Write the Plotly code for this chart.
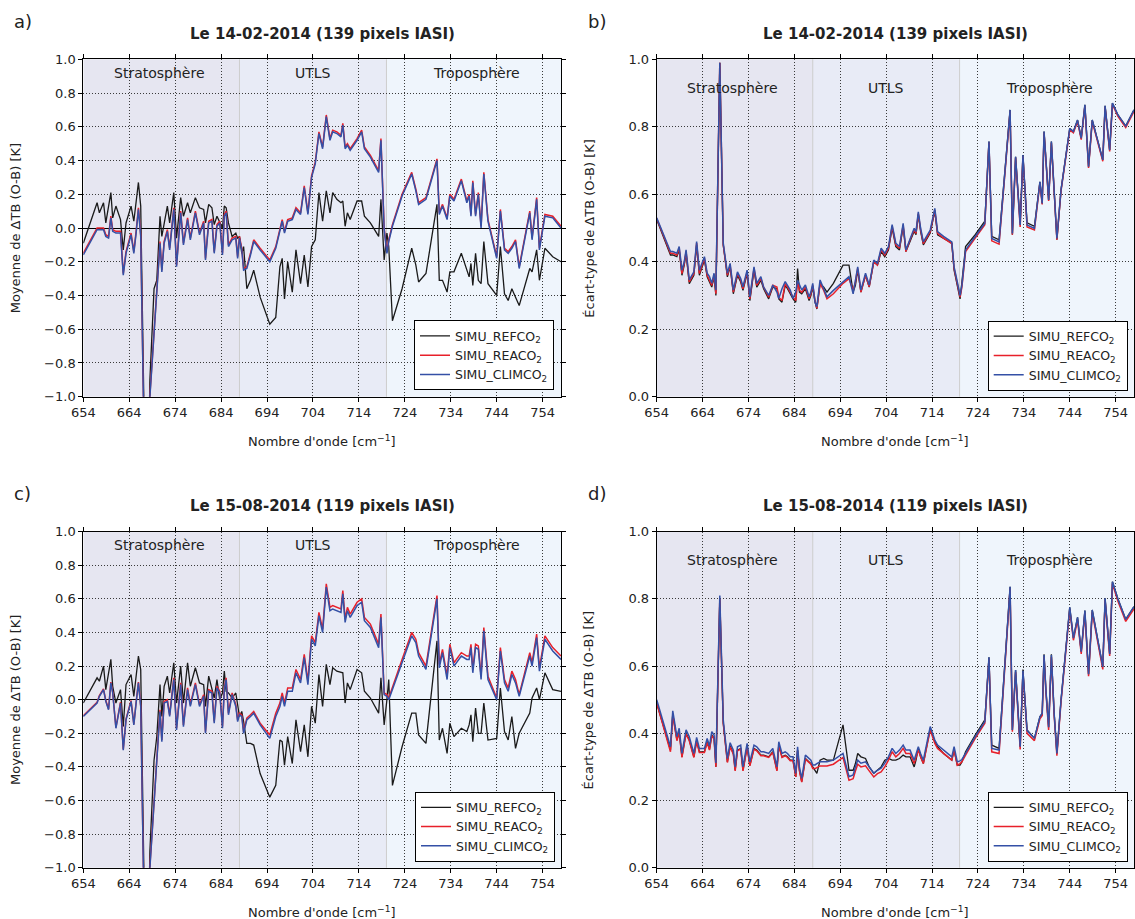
import plotly.graph_objects as go

W, H = 1135, 919

# ---------------- data ----------------
wavenumber = [
    654.0, 657.0, 657.5, 658.4, 658.9, 659.5, 660.0, 660.4, 661.1, 662.1,
    662.7, 663.3, 664.4, 665.0, 665.5, 666.0, 666.5, 666.9, 667.75, 668.5,
    669.4, 670.0, 670.7, 671.1, 671.6, 672.3, 672.8, 673.7, 674.3, 675.2,
    675.8, 676.7, 677.3, 678.4, 679.3, 680.2, 680.6, 681.3, 682.0, 682.5,
    683.1, 683.7, 684.3, 684.7, 685.1, 685.6, 686.4, 687.2, 687.6, 688.0,
    688.5, 688.9, 689.6, 690.4, 691.1, 692.5, 694.6, 695.9, 696.8, 697.3,
    697.8, 698.5, 699.5, 700.3, 701.3, 702.1, 702.9, 703.7, 704.5, 705.3,
    706.1, 706.9, 707.7, 708.3, 709.2, 710.1, 710.5, 711.0, 711.5, 712.1,
    713.6, 714.6, 715.2, 716.5, 718.3, 718.8, 719.5, 720.1, 720.5, 721.3,
    723.4, 725.5, 726.4, 727.0, 728.6, 731.0, 731.5, 732.2, 733.2, 733.8,
    734.7, 736.3, 737.5, 738.0, 738.4, 738.8, 739.4, 740.0, 740.6, 741.2,
    742.1, 744.0, 744.8, 745.7, 746.5, 747.3, 748.1, 748.9, 751.2, 751.7,
    752.7, 753.3, 754.5, 756.2, 758.0,
]

# a) mean O-B, 14-02-2014
a_ref = [
    -0.09, 0.15, 0.09, 0.15, 0.03, 0.12, 0.21, 0.06, 0.13, 0.05,
    -0.13, 0.03, 0.13, 0.04, 0.15, 0.27, 0.13, -0.50, -2.00, -0.90,
    -0.36, -0.31, 0.07, -0.05, 0.03, 0.13, 0.03, 0.21, -0.06, 0.18,
    0.07, 0.15, 0.09, 0.18, 0.12, 0.11, 0.03, 0.14, 0.12, 0.02,
    0.07, 0.03, 0.00, 0.13, 0.12, 0.03, -0.05, -0.03, -0.06, -0.05,
    -0.15, -0.11, -0.36, -0.31, -0.25, -0.41, -0.57, -0.53, -0.23, -0.18,
    -0.42, -0.20, -0.38, -0.13, -0.33, -0.16, -0.35, -0.11, -0.07, 0.21,
    0.04, 0.22, 0.09, 0.21, 0.17, 0.15, 0.16, 0.01, 0.09, 0.05,
    0.16, 0.16, 0.07, 0.03, -0.05, 0.17, -0.19, -0.03, -0.11, -0.55,
    -0.36, -0.12, -0.22, -0.32, -0.27, 0.14, -0.31, -0.31, -0.38, -0.26,
    -0.26, -0.15, -0.25, -0.29, -0.21, -0.34, -0.15, -0.31, -0.33, -0.08,
    -0.33, -0.40, -0.11, -0.39, -0.43, -0.36, -0.41, -0.46, -0.24, -0.26,
    -0.13, -0.31, -0.12, -0.17, -0.20,
]
a_rea = [
    -0.15, 0.00, 0.00, 0.00, -0.04, -0.05, 0.07, -0.01, -0.02, -0.02,
    -0.27, -0.14, -0.03, -0.14, -0.02, 0.12, -0.04, -0.59, -2.08, -0.99,
    -0.62, -0.40, -0.08, -0.25, -0.08, -0.01, -0.12, 0.12, -0.22, 0.10,
    -0.09, 0.06, -0.06, 0.10, -0.03, 0.04, -0.18, 0.04, 0.05, -0.14,
    0.02, 0.04, -0.15, 0.08, 0.10, -0.10, -0.06, -0.05, -0.17, -0.05,
    -0.12, -0.24, -0.23, -0.15, -0.07, -0.12, -0.19, -0.11, -0.01, 0.05,
    -0.02, 0.05, 0.06, 0.12, 0.09, 0.25, 0.09, 0.31, 0.39, 0.57,
    0.48, 0.67, 0.53, 0.58, 0.57, 0.55, 0.62, 0.48, 0.50, 0.47,
    0.53, 0.58, 0.48, 0.43, 0.34, 0.53, 0.00, -0.14, -0.07, 0.02,
    0.20, 0.33, 0.23, 0.15, 0.18, 0.41, 0.09, 0.14, 0.06, 0.20,
    0.17, 0.29, 0.16, 0.20, 0.08, 0.28, 0.08, 0.21, 0.01, 0.33,
    0.05, -0.17, 0.11, -0.12, -0.14, -0.11, -0.07, -0.23, 0.10, -0.06,
    0.18, -0.12, 0.08, 0.07, 0.01,
]
a_clim = [
    -0.16, -0.01, -0.01, -0.01, -0.05, -0.06, 0.06, -0.02, -0.03, -0.03,
    -0.28, -0.15, -0.04, -0.15, -0.03, 0.11, -0.05, -0.60, -2.10, -1.00,
    -0.63, -0.41, -0.09, -0.26, -0.09, -0.02, -0.13, 0.11, -0.23, 0.09,
    -0.10, 0.05, -0.07, 0.09, -0.04, 0.03, -0.19, 0.03, 0.04, -0.15,
    0.01, 0.03, -0.16, 0.07, 0.09, -0.11, -0.07, -0.06, -0.18, -0.06,
    -0.13, -0.25, -0.24, -0.16, -0.08, -0.13, -0.20, -0.12, -0.02, 0.04,
    -0.03, 0.04, 0.05, 0.11, 0.08, 0.24, 0.08, 0.30, 0.38, 0.56,
    0.47, 0.66, 0.52, 0.57, 0.56, 0.54, 0.61, 0.47, 0.49, 0.46,
    0.52, 0.57, 0.47, 0.42, 0.33, 0.52, -0.01, -0.15, -0.08, 0.01,
    0.19, 0.32, 0.22, 0.14, 0.17, 0.40, 0.08, 0.13, 0.05, 0.19,
    0.16, 0.28, 0.15, 0.19, 0.07, 0.27, 0.07, 0.20, 0.00, 0.32,
    0.04, -0.18, 0.10, -0.13, -0.15, -0.12, -0.08, -0.24, 0.09, -0.07,
    0.17, -0.13, 0.07, 0.06, 0.00,
]

# b) std O-B, 14-02-2014
b_ref = [
    0.525, 0.42, 0.42, 0.415, 0.435, 0.36, 0.39, 0.425, 0.335, 0.36,
    0.45, 0.36, 0.405, 0.355, 0.34, 0.325, 0.355, 0.30, 0.99, 0.45,
    0.355, 0.385, 0.305, 0.33, 0.36, 0.34, 0.315, 0.365, 0.285, 0.375,
    0.325, 0.345, 0.32, 0.29, 0.325, 0.32, 0.29, 0.28, 0.33, 0.32,
    0.305, 0.29, 0.28, 0.38, 0.31, 0.305, 0.32, 0.285, 0.30, 0.325,
    0.28, 0.26, 0.335, 0.325, 0.31, 0.336, 0.39, 0.39, 0.31, 0.33,
    0.375, 0.31, 0.36, 0.325, 0.40, 0.39, 0.43, 0.415, 0.435, 0.50,
    0.445, 0.435, 0.505, 0.43, 0.46, 0.49, 0.48, 0.54, 0.49, 0.45,
    0.485, 0.55, 0.48, 0.47, 0.455, 0.375, 0.33, 0.29, 0.34, 0.445,
    0.48, 0.52, 0.756, 0.475, 0.465, 0.850, 0.48, 0.711, 0.515, 0.716,
    0.515, 0.505, 0.637, 0.573, 0.786, 0.70, 0.583, 0.756, 0.61, 0.465,
    0.613, 0.795, 0.786, 0.820, 0.766, 0.865, 0.682, 0.820, 0.702, 0.862,
    0.731, 0.870, 0.835, 0.802, 0.850,
]
b_rea = [
    0.528, 0.425, 0.425, 0.42, 0.44, 0.365, 0.395, 0.43, 0.34, 0.365,
    0.455, 0.365, 0.41, 0.36, 0.345, 0.33, 0.36, 0.305, 0.99, 0.45,
    0.36, 0.39, 0.31, 0.335, 0.365, 0.345, 0.32, 0.37, 0.29, 0.38,
    0.33, 0.35, 0.325, 0.295, 0.33, 0.325, 0.295, 0.285, 0.335, 0.325,
    0.31, 0.295, 0.285, 0.34, 0.315, 0.31, 0.325, 0.29, 0.305, 0.33,
    0.285, 0.262, 0.335, 0.315, 0.29, 0.305, 0.336, 0.35, 0.315, 0.34,
    0.38, 0.31, 0.36, 0.326, 0.40, 0.39, 0.435, 0.42, 0.44, 0.505,
    0.45, 0.44, 0.509, 0.43, 0.465, 0.494, 0.484, 0.543, 0.495, 0.454,
    0.489, 0.553, 0.484, 0.47, 0.454, 0.38, 0.335, 0.295, 0.325, 0.43,
    0.47, 0.51, 0.753, 0.462, 0.452, 0.846, 0.48, 0.708, 0.503, 0.712,
    0.503, 0.494, 0.633, 0.57, 0.782, 0.696, 0.58, 0.752, 0.606, 0.465,
    0.61, 0.791, 0.782, 0.816, 0.762, 0.861, 0.678, 0.816, 0.698, 0.858,
    0.727, 0.866, 0.831, 0.798, 0.846,
]
b_clim = [
    0.53, 0.43, 0.43, 0.425, 0.445, 0.375, 0.40, 0.435, 0.346, 0.37,
    0.46, 0.375, 0.415, 0.366, 0.356, 0.336, 0.366, 0.316, 0.99, 0.455,
    0.366, 0.395, 0.316, 0.345, 0.37, 0.35, 0.326, 0.375, 0.296, 0.385,
    0.336, 0.356, 0.325, 0.30, 0.331, 0.31, 0.291, 0.32, 0.341, 0.33,
    0.316, 0.291, 0.31, 0.345, 0.33, 0.316, 0.331, 0.296, 0.31, 0.336,
    0.28, 0.267, 0.346, 0.32, 0.296, 0.315, 0.341, 0.356, 0.305, 0.34,
    0.385, 0.316, 0.366, 0.331, 0.405, 0.395, 0.44, 0.425, 0.445, 0.51,
    0.455, 0.445, 0.514, 0.435, 0.47, 0.499, 0.489, 0.548, 0.50, 0.459,
    0.494, 0.558, 0.489, 0.475, 0.459, 0.385, 0.34, 0.30, 0.33, 0.435,
    0.475, 0.514, 0.756, 0.469, 0.459, 0.850, 0.484, 0.711, 0.509, 0.716,
    0.509, 0.499, 0.637, 0.573, 0.786, 0.70, 0.583, 0.756, 0.61, 0.469,
    0.613, 0.795, 0.786, 0.820, 0.766, 0.865, 0.682, 0.820, 0.702, 0.862,
    0.731, 0.870, 0.835, 0.802, 0.850,
]

# c) mean O-B, 15-08-2014
c_ref = [
    -0.02, 0.13, 0.11, 0.20, 0.06, 0.15, 0.24, 0.08, -0.02, 0.06,
    -0.16, 0.09, 0.15, 0.02, 0.14, 0.26, 0.18, -0.50, -2.00, -0.90,
    -0.36, -0.22, 0.09, -0.10, 0.08, 0.14, 0.04, 0.22, -0.02, 0.20,
    -0.02, 0.22, 0.08, 0.19, 0.10, 0.09, -0.04, 0.14, 0.06, 0.01,
    0.12, 0.00, 0.04, 0.17, 0.05, 0.04, 0.01, 0.04, -0.03, -0.10,
    -0.07, -0.13, -0.26, -0.26, -0.27, -0.44, -0.58, -0.51, -0.24, -0.25,
    -0.39, -0.22, -0.38, -0.12, -0.31, -0.15, -0.34, -0.04, -0.14, 0.15,
    -0.04, 0.21, 0.09, 0.19, 0.17, 0.16, 0.16, -0.02, 0.10, 0.06,
    0.18, 0.16, 0.05, 0.01, -0.08, 0.13, -0.15, 0.00, 0.12, -0.51,
    -0.28, -0.08, -0.08, -0.21, -0.26, 0.35, -0.24, -0.17, -0.32, -0.14,
    -0.22, -0.17, -0.19, -0.15, -0.09, -0.25, -0.05, -0.20, -0.20, -0.02,
    -0.24, -0.23, 0.07, -0.19, -0.24, -0.10, -0.29, -0.20, -0.08, 0.01,
    0.07, 0.00, 0.16, 0.06, 0.05,
]
c_rea = [
    -0.095, -0.015, 0.025, 0.065, -0.005, -0.055, 0.105, 0.045, -0.165, -0.015,
    -0.295, -0.115, -0.005, -0.145, -0.015, 0.105, -0.035, -0.59, -2.08, -0.99,
    -0.59, -0.39, -0.06, -0.24, -0.01, 0.00, -0.09, 0.13, -0.17, 0.10,
    -0.15, 0.07, -0.03, 0.10, -0.03, 0.03, -0.19, 0.06, 0.05, -0.13,
    0.08, 0.05, -0.16, 0.07, 0.13, -0.08, 0.04, -0.03, -0.12, -0.08,
    -0.09, -0.19, -0.11, -0.09, -0.07, -0.14, -0.21, -0.08, -0.02, 0.04,
    -0.02, 0.07, 0.07, 0.18, 0.12, 0.27, 0.11, 0.38, 0.34, 0.52,
    0.42, 0.69, 0.55, 0.56, 0.55, 0.54, 0.65, 0.48, 0.55, 0.51,
    0.58, 0.60, 0.49, 0.45, 0.33, 0.51, 0.04, 0.03, 0.01, 0.07,
    0.24, 0.40, 0.36, 0.28, 0.20, 0.62, 0.21, 0.30, 0.14, 0.33,
    0.22, 0.28, 0.26, 0.26, 0.33, 0.18, 0.33, 0.32, 0.14, 0.43,
    0.14, 0.01, 0.31, 0.12, 0.07, 0.17, 0.12, 0.03, 0.28, 0.22,
    0.39, 0.19, 0.38, 0.31, 0.26,
]
c_clim = [
    -0.10, -0.02, 0.02, 0.06, -0.01, -0.06, 0.10, 0.04, -0.17, -0.02,
    -0.30, -0.12, -0.01, -0.15, -0.02, 0.10, -0.04, -0.60, -2.10, -1.00,
    -0.60, -0.40, -0.07, -0.25, -0.02, -0.01, -0.10, 0.12, -0.18, 0.09,
    -0.16, 0.06, -0.04, 0.09, -0.04, 0.02, -0.20, 0.05, 0.04, -0.14,
    0.07, 0.04, -0.17, 0.06, 0.12, -0.09, 0.03, -0.04, -0.13, -0.09,
    -0.10, -0.20, -0.12, -0.10, -0.08, -0.15, -0.23, -0.10, -0.04, 0.02,
    -0.04, 0.05, 0.05, 0.16, 0.10, 0.25, 0.09, 0.36, 0.32, 0.50,
    0.40, 0.67, 0.53, 0.54, 0.53, 0.52, 0.63, 0.46, 0.53, 0.49,
    0.56, 0.58, 0.47, 0.43, 0.31, 0.49, 0.03, 0.02, 0.00, 0.06,
    0.22, 0.38, 0.34, 0.26, 0.18, 0.60, 0.19, 0.28, 0.12, 0.31,
    0.20, 0.26, 0.24, 0.24, 0.31, 0.16, 0.31, 0.30, 0.12, 0.41,
    0.12, 0.00, 0.29, 0.10, 0.05, 0.15, 0.10, 0.02, 0.26, 0.20,
    0.37, 0.17, 0.36, 0.29, 0.24,
]

# d) std O-B, 15-08-2014
d_ref = [
    0.49, 0.35, 0.457, 0.38, 0.405, 0.33, 0.37, 0.40, 0.38, 0.33,
    0.378, 0.345, 0.345, 0.375, 0.352, 0.395, 0.385, 0.30, 0.80, 0.43,
    0.315, 0.362, 0.34, 0.29, 0.35, 0.355, 0.29, 0.36, 0.305, 0.355,
    0.35, 0.335, 0.335, 0.33, 0.345, 0.29, 0.365, 0.33, 0.335, 0.33,
    0.32, 0.32, 0.27, 0.35, 0.29, 0.256, 0.325, 0.315, 0.31, 0.30,
    0.29, 0.281, 0.32, 0.325, 0.32, 0.32, 0.425, 0.29, 0.29, 0.31,
    0.34, 0.33, 0.325, 0.30, 0.281, 0.29, 0.30, 0.32, 0.325, 0.32,
    0.32, 0.325, 0.335, 0.33, 0.33, 0.30, 0.32, 0.355, 0.33, 0.31,
    0.415, 0.375, 0.36, 0.34, 0.32, 0.35, 0.305, 0.305, 0.315, 0.345,
    0.395, 0.44, 0.626, 0.365, 0.355, 0.836, 0.41, 0.588, 0.36, 0.59,
    0.41, 0.385, 0.449, 0.459, 0.635, 0.53, 0.418, 0.635, 0.46, 0.34,
    0.499, 0.775, 0.683, 0.745, 0.643, 0.765, 0.576, 0.767, 0.598, 0.802,
    0.636, 0.851, 0.80, 0.739, 0.777,
]
d_rea = [
    0.49, 0.345, 0.455, 0.378, 0.403, 0.328, 0.368, 0.398, 0.378, 0.328,
    0.376, 0.343, 0.343, 0.373, 0.35, 0.393, 0.383, 0.30, 0.80, 0.43,
    0.313, 0.36, 0.338, 0.288, 0.348, 0.353, 0.288, 0.358, 0.303, 0.353,
    0.348, 0.333, 0.333, 0.328, 0.343, 0.288, 0.363, 0.328, 0.333, 0.328,
    0.318, 0.318, 0.27, 0.348, 0.288, 0.255, 0.323, 0.313, 0.308, 0.295,
    0.295, 0.298, 0.303, 0.303, 0.303, 0.308, 0.328, 0.26, 0.265, 0.288,
    0.308, 0.30, 0.303, 0.288, 0.27, 0.28, 0.285, 0.30, 0.32, 0.345,
    0.33, 0.34, 0.355, 0.34, 0.34, 0.31, 0.33, 0.35, 0.33, 0.31,
    0.41, 0.37, 0.355, 0.34, 0.32, 0.35, 0.305, 0.31, 0.315, 0.335,
    0.385, 0.43, 0.62, 0.345, 0.34, 0.83, 0.405, 0.582, 0.352, 0.58,
    0.40, 0.378, 0.443, 0.453, 0.627, 0.524, 0.41, 0.627, 0.454, 0.333,
    0.493, 0.768, 0.677, 0.738, 0.636, 0.758, 0.57, 0.76, 0.59, 0.795,
    0.63, 0.845, 0.793, 0.733, 0.77,
]
d_clim = [
    0.50, 0.36, 0.467, 0.39, 0.415, 0.34, 0.38, 0.41, 0.39, 0.34,
    0.388, 0.355, 0.355, 0.385, 0.362, 0.405, 0.395, 0.312, 0.81, 0.44,
    0.325, 0.372, 0.35, 0.30, 0.36, 0.365, 0.30, 0.37, 0.315, 0.365,
    0.36, 0.345, 0.345, 0.34, 0.355, 0.30, 0.375, 0.34, 0.345, 0.34,
    0.33, 0.33, 0.281, 0.36, 0.30, 0.266, 0.335, 0.325, 0.32, 0.306,
    0.306, 0.31, 0.315, 0.315, 0.315, 0.32, 0.34, 0.271, 0.276, 0.30,
    0.32, 0.311, 0.315, 0.30, 0.281, 0.29, 0.296, 0.311, 0.33, 0.355,
    0.34, 0.35, 0.365, 0.35, 0.35, 0.32, 0.34, 0.36, 0.34, 0.32,
    0.42, 0.38, 0.365, 0.35, 0.33, 0.36, 0.315, 0.318, 0.322, 0.34,
    0.39, 0.435, 0.626, 0.355, 0.35, 0.836, 0.41, 0.588, 0.36, 0.586,
    0.408, 0.385, 0.449, 0.459, 0.633, 0.53, 0.418, 0.633, 0.46, 0.34,
    0.499, 0.775, 0.683, 0.745, 0.643, 0.765, 0.576, 0.767, 0.598, 0.802,
    0.636, 0.851, 0.80, 0.739, 0.777,
]

series_names = ["SIMU_REFCO<sub>2</sub>", "SIMU_REACO<sub>2</sub>", "SIMU_CLIMCO<sub>2</sub>"]
series_colors = ["#1a1a1a", "#e8202a", "#3450a6"]
series_widths = [1.3, 1.5, 1.5]

region_names = ["Stratosphère", "UTLS", "Troposphère"]
region_bounds = [654, 688, 720, 758]
region_colors = ["#e6e6f1", "#e8ebf6", "#eff5fc"]
region_label_x = [670.5, 704.0, 739.5]

titles = ["Le 14-02-2014 (139 pixels IASI)", "Le 14-02-2014 (139 pixels IASI)",
          "Le 15-08-2014 (119 pixels IASI)", "Le 15-08-2014 (119 pixels IASI)"]
panel_letters = ["a)", "b)", "c)", "d)"]
ylabels = ["Moyenne de ΔTB (O-B) [K]", "Écart-type de ΔTB (O-B) [K]",
           "Moyenne de ΔTB (O-B) [K]", "Écart-type de ΔTB (O-B) [K]"]
xlabel = "Nombre d'onde [cm<sup>−1</sup>]"
xticks = [654, 664, 674, 684, 694, 704, 714, 724, 734, 744, 754]
yticks_mean = [-1.0, -0.8, -0.6, -0.4, -0.2, 0.0, 0.2, 0.4, 0.6, 0.8, 1.0]
yticks_std = [0.0, 0.2, 0.4, 0.6, 0.8, 1.0]

panel_data = [
    (a_ref, a_rea, a_clim),
    (b_ref, b_rea, b_clim),
    (c_ref, c_rea, c_clim),
    (d_ref, d_rea, d_clim),
]

# ---------------- layout geometry (pixels) ----------------
boxes = [
    (83.3, 59.3, 561.0, 396.7),
    (656.7, 59.3, 1134.0, 396.7),
    (83.3, 531.7, 561.0, 867.7),
    (656.7, 531.7, 1134.0, 867.7),
]
legend_corners = [(554.0, 390.3), (1127.7, 390.5), (555.0, 861.7), (1127.7, 861.7)]
FONT = "DejaVu Sans, sans-serif"
TXT = "#222222"


def fx(p):
    return p / W


def fy(p):
    return 1 - p / H


fig = go.Figure()
annotations = []
shapes = []
layout = dict(
    width=W, height=H, margin=dict(l=0, r=0, t=0, b=0, pad=0, autoexpand=False),
    paper_bgcolor="white", plot_bgcolor="white",
    font=dict(family=FONT, size=13, color=TXT),
)

for i in range(4):
    n = "" if i == 0 else str(i + 1)
    xa, ya = "x" + n, "y" + n
    x0, y0, x1, y1 = boxes[i]
    is_mean = i in (0, 2)
    yt = yticks_mean if is_mean else yticks_std

    layout["xaxis" + n] = dict(
        domain=[fx(x0), fx(x1)], anchor=ya, range=[654, 758],
        tickvals=xticks, ticktext=[str(t) for t in xticks],
        ticks="outside", ticklen=4, tickwidth=1, tickcolor="black",
        showline=True, linecolor="black", linewidth=1, mirror="ticks",
        showgrid=True, gridcolor="#3a3a3a", gridwidth=1, griddash="1px,2px",
        zeroline=False, automargin=False,
        tickfont=dict(family=FONT, size=13, color=TXT),
    )
    layout["yaxis" + n] = dict(
        domain=[fy(y1), fy(y0)], anchor=xa,
        range=[-1, 1] if is_mean else [0, 1],
        tickvals=yt, ticktext=[f"{v:.1f}".replace("-", "−") for v in yt],
        ticks="outside", ticklen=4, tickwidth=1, tickcolor="black",
        showline=True, linecolor="black", linewidth=1, mirror="ticks",
        showgrid=True, gridcolor="#3a3a3a", gridwidth=1, griddash="1px,2px",
        zeroline=is_mean, zerolinecolor="black", zerolinewidth=1, automargin=False,
        tickfont=dict(family=FONT, size=13, color=TXT),
    )

    # region shading
    for r in range(3):
        shapes.append(dict(type="rect", xref=xa, yref=ya + " domain",
                           x0=region_bounds[r], x1=region_bounds[r + 1], y0=0, y1=1,
                           fillcolor=region_colors[r], line=dict(width=0), layer="below"))
    for b in region_bounds[1:3]:
        shapes.append(dict(type="line", xref=xa, yref=ya + " domain",
                           x0=b, x1=b, y0=0, y1=1,
                           line=dict(color="#cdcdcd", width=1), layer="below"))
    # region labels
    for r in range(3):
        annotations.append(dict(text=region_names[r], x=region_label_x[r], xref=xa,
                                y=0.92 if is_mean else 0.915, yref=ya,
                                showarrow=False, xanchor="center", yanchor="middle",
                                font=dict(family=FONT, size=14, color=TXT)))

    # traces
    lg = "legend" if i == 0 else "legend" + str(i + 1)
    for s in range(3):
        fig.add_trace(go.Scatter(
            x=wavenumber, y=panel_data[i][s], mode="lines",
            name=series_names[s], xaxis=xa, yaxis=ya, legend=lg,
            line=dict(color=series_colors[s], width=series_widths[s]),
            showlegend=True, hoverinfo="skip",
        ))

    rx, by = legend_corners[i]
    layout[lg] = dict(
        x=fx(rx), y=fy(by), xanchor="right", yanchor="bottom",
        xref="paper", yref="paper", bgcolor="white",
        bordercolor="black", borderwidth=1,
        font=dict(family=FONT, size=12.5, color=TXT),
        tracegroupgap=0, itemwidth=30, traceorder="normal",
    )

    cx = (x0 + x1) / 2
    # title
    annotations.append(dict(text="<b>" + titles[i] + "</b>", x=fx(cx), y=fy(y0 - 25.5),
                            xref="paper", yref="paper", showarrow=False,
                            xanchor="center", yanchor="middle",
                            font=dict(family=FONT, size=15, color=TXT)))
    # panel letter
    annotations.append(dict(text=panel_letters[i], x=fx(x0 - 71), y=fy(y0 - 38),
                            xref="paper", yref="paper", showarrow=False,
                            xanchor="left", yanchor="middle",
                            font=dict(family=FONT, size=18, color=TXT)))
    # x label
    annotations.append(dict(text=xlabel, x=fx(cx), y=fy(y1 + 44),
                            xref="paper", yref="paper", showarrow=False,
                            xanchor="center", yanchor="middle",
                            font=dict(family=FONT, size=13, color=TXT)))
    # y label
    annotations.append(dict(text=ylabels[i], x=fx(x0 - 68), y=fy((y0 + y1) / 2),
                            xref="paper", yref="paper", showarrow=False, textangle=-90,
                            xanchor="center", yanchor="middle",
                            font=dict(family=FONT, size=13, color=TXT)))

layout["annotations"] = annotations
layout["shapes"] = shapes
fig.update_layout(**layout)
fig.write_html(
    "out.html",
    config={"displayModeBar": False, "staticPlot": True},
    post_script="document.body.style.margin='0';document.body.style.overflow='hidden';",
)
